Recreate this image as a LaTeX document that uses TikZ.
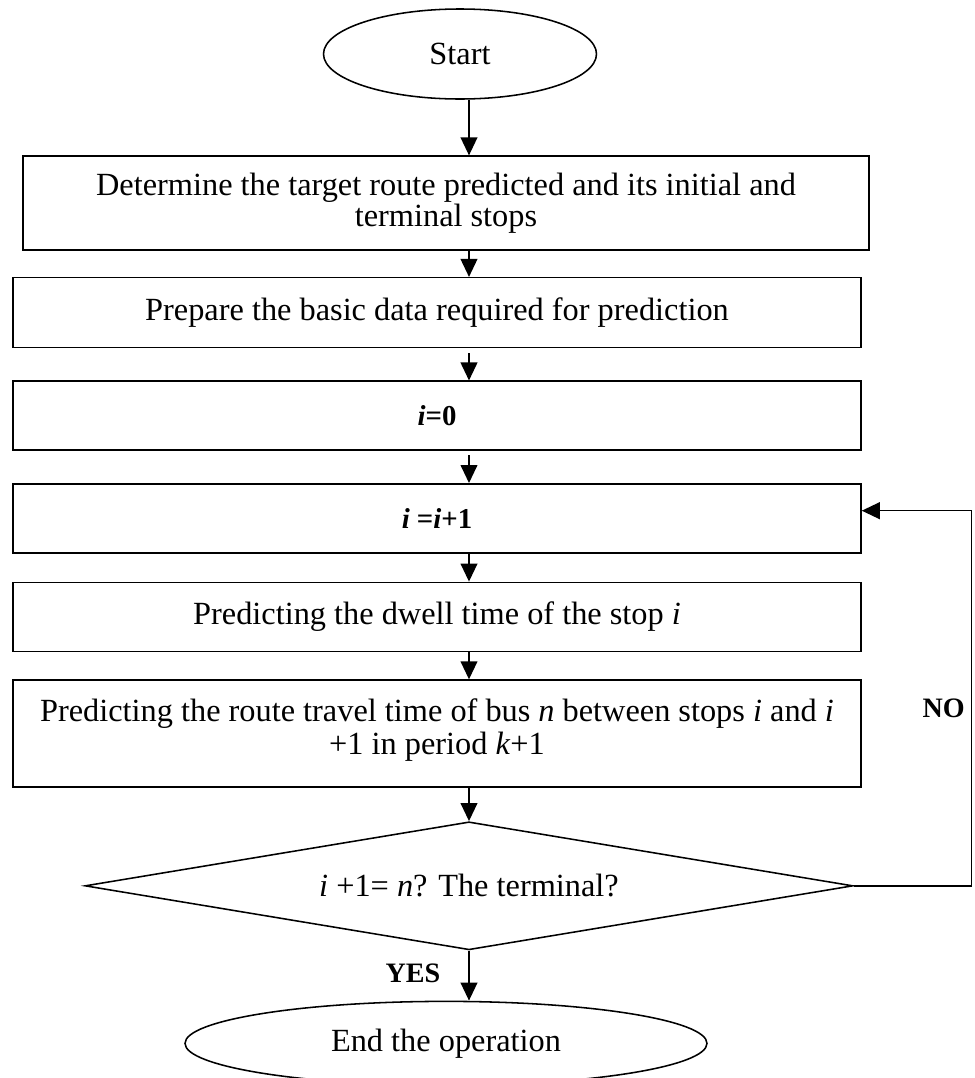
\documentclass[tikz,border=0pt]{standalone}
\usepackage{fontspec}
\setmainfont{Liberation Serif}
\usetikzlibrary{positioning,shapes.geometric,arrows.meta}

\begin{document}
\begin{tikzpicture}[every node/.style = {font=\fontsize{23}{22}\selectfont},
		term/.style = {draw, ellipse, line width=1.1pt, inner sep=0pt},
		box/.style = {draw, rectangle, line width=1.1pt, inner sep=0pt, align=center},
		cond/.style = {draw, diamond, aspect=6, line width=1.1pt, inner sep=0pt},
		lbl/.style = {font=\bfseries\fontsize{20}{20}\selectfont},
		arr/.style = {line width=1pt, -{Triangle[length=0.45cm, width=0.42cm]}}]
		\useasboundingbox (0,0) rectangle (24.375,-26.95);
		\node[term, minimum width=6.825cm, minimum height=2.25cm] (start) at (11.5,-1.35) {Start};
		\node[box, minimum width=21.15cm, minimum height=2.35cm] (det) [below=1.39cm of start, xshift=-0.35cm] {Determine the target route predicted and its initial and\\terminal stops};
		\node[box, minimum width=21.2cm, minimum height=1.75cm] (prep) [below=0.65cm of det, xshift=-0.225cm] {Prepare the basic data required for prediction};
		\node[box, minimum width=21.2cm, minimum height=1.725cm] (init) [below=0.8cm of prep] {\fontsize{20.5}{20}\selectfont\textbf{\textit{i}=0}};
		\node[box, minimum width=21.2cm, minimum height=1.725cm] (inc) [below=0.8cm of init] {\fontsize{20.5}{20}\selectfont\textbf{\textit{i} =\textit{i}+1}};
		\node[box, minimum width=21.2cm, minimum height=1.725cm] (dwell) [below=0.7cm of inc] {Predicting the dwell time of the stop \textit{i}};
		\node[box, minimum width=21.2cm, minimum height=2.675cm,
			label={[align=center, yshift=0.1cm, font=\fontsize{23}{23.5}\selectfont]center:Predicting the route travel time of bus \textit{n} between stops \textit{i} and \textit{i}\\+1 in period \textit{k}+1}] (pred) [below=0.68cm of dwell] {};
		\node[cond, minimum width=19.2cm, minimum height=3.2cm] (dec) [below=0.83cm of pred, xshift=0.8cm] {\textit{i} +1= \textit{n}? The terminal?};
		\node[term, minimum width=13.05cm, minimum height=2.1cm] (end) [below=1.25cm of dec, xshift=-0.575cm] {End the operation};
		\node[lbl] (no) at ([xshift=2.05cm, yshift=0.64cm]pred.east) {NO};
		\node[lbl] (yes) at ([xshift=-1.4cm, yshift=-0.575cm]dec.south) {YES};
		\draw[arr] (start.south -| dec) -- (det.north -| dec);
		\draw[arr] (det.south -| dec) -- (prep.north -| dec);
		\draw[arr] ([yshift=-0.12cm]prep.south -| dec) -- (init.north -| dec);
		\draw[arr] ([yshift=-0.1cm]init.south -| dec) -- (inc.north -| dec);
		\draw[arr] (inc.south -| dec) -- (dwell.north -| dec);
		\draw[arr] (dwell.south -| dec) -- (pred.north -| dec);
		\draw[arr] (pred.south -| dec) -- (dec.north);
		\draw[arr] (dec.south) -- (end.north -| dec);
		\draw[arr] (dec.east) -- ++(2.95cm,0) |- ([yshift=0.19cm]inc.east);
	\end{tikzpicture}
\end{document}
